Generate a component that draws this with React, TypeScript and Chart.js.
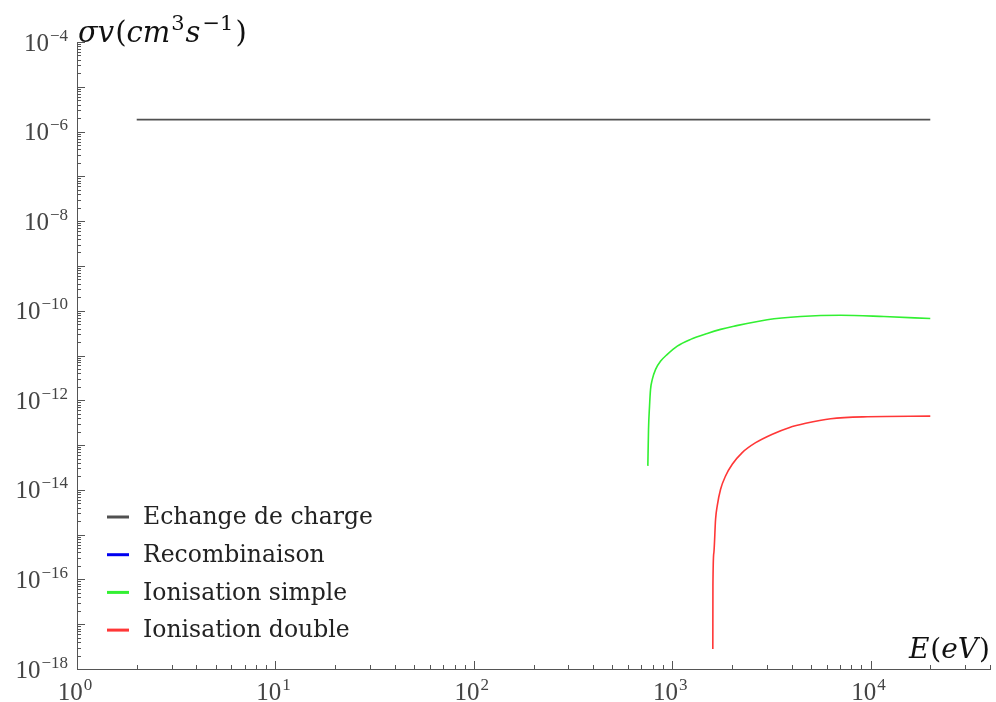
import React, { useEffect, useRef } from "react";
import { Chart, registerables } from "chart.js";

Chart.register(...registerables);

// ---- data ----
const seriesLabels = ["Echange de charge", "Recombinaison", "Ionisation simple", "Ionisation double"];
const seriesColors = ["rgb(80,80,80)", "rgb(0,0,240)", "rgb(50,240,50)", "rgb(255,55,55)"];

const chargeE = [2, 20000];
const chargeSigma = [1.85e-6, 1.85e-6];

const recombE: number[] = [];
const recombSigma: number[] = [];

const simpleE = [754, 760, 769, 778, 794, 825, 875, 945, 1061, 1239, 1503, 1754, 2046, 3013, 4436, 7060, 11670, 20000];
const simpleSigma = [3.43e-14, 2.25e-13, 7.45e-13, 1.75e-12, 2.93e-12, 4.9e-12, 7.5e-12, 1.06e-11, 1.62e-11, 2.29e-11, 3.11e-11, 3.83e-11, 4.5e-11, 6.3e-11, 7.4e-11, 7.9e-11, 7.4e-11, 6.7e-11];

const doubleE = [1603, 1605, 1623, 1655, 1687, 1754, 1858, 2009, 2255, 2635, 3199, 3880, 4710, 6295, 9640, 20000];
const doubleSigma = [2.8e-18, 7.2e-17, 4.0e-16, 2.2e-15, 4.4e-15, 1.03e-14, 2.04e-14, 3.72e-14, 6.8e-14, 1.13e-13, 1.75e-13, 2.45e-13, 3.06e-13, 3.86e-13, 4.28e-13, 4.43e-13];

const yMajorExponents = [-18, -16, -14, -12, -10, -8, -6, -4];
const yTickLabels = ["10^−18", "10^−16", "10^−14", "10^−12", "10^−10", "10^−8", "10^−6", "10^−4"];
const xMajorExponents = [0, 1, 2, 3, 4];
const xTickLabels = ["10^0", "10^1", "10^2", "10^3", "10^4"];

const X_MIN = 1;
const X_MAX = 4e4;
const Y_MIN = 1e-18;
const Y_MAX = 1e-4;

const AXIS_COLOR = "#555";
const LABEL_COLOR = "#444";
const SERIF = '"DejaVu Serif", "Liberation Serif", serif';
const TICK_SERIF = '"Liberation Serif", "DejaVu Serif", serif';

function logTicks(min: number, max: number) {
  const out: number[] = [];
  const e0 = Math.floor(Math.log10(min) + 1e-9);
  const e1 = Math.ceil(Math.log10(max) - 1e-9);
  for (let e = e0; e <= e1; e++) {
    for (let m = 1; m <= 9; m++) {
      const v = Number(`${m}e${e}`);
      if (v >= min * (1 - 1e-9) && v <= max * (1 + 1e-9)) out.push(v);
    }
  }
  return out;
}

function isDecade(v: number) {
  const l = Math.log10(v);
  return Math.abs(l - Math.round(l)) < 1e-6;
}

type Piece = { t: string; italic: boolean; small?: boolean; gap?: number };

function drawPieces(ctx: CanvasRenderingContext2D, pieces: Piece[], x: number, baseline: number, size: number, align: "left" | "right") {
  const fontOf = (p: Piece) => `${p.italic ? "italic " : ""}${p.small ? Math.round(size * 0.72) : size}px ${SERIF}`;
  let total = 0;
  for (const p of pieces) {
    ctx.font = fontOf(p);
    total += ctx.measureText(p.t).width + (p.gap || 0);
  }
  let cx = align === "left" ? x : x - total;
  ctx.textAlign = "left";
  ctx.textBaseline = "alphabetic";
  for (const p of pieces) {
    ctx.font = fontOf(p);
    cx += p.gap || 0;
    ctx.fillText(p.t, cx, p.small ? baseline - size * 0.42 : baseline);
    cx += ctx.measureText(p.t).width;
  }
}

function drawPowerLabel(ctx: CanvasRenderingContext2D, label: string, x: number, baseline: number, align: "right" | "center") {
  const [base, exp] = label.split("^");
  ctx.font = `25px ${TICK_SERIF}`;
  const wb = ctx.measureText(base).width;
  ctx.font = `17px ${TICK_SERIF}`;
  const we = ctx.measureText(exp).width + 1;
  const total = wb + we;
  const left = align === "right" ? x - total : x - total / 2;
  ctx.textAlign = "left";
  ctx.textBaseline = "alphabetic";
  ctx.font = `25px ${TICK_SERIF}`;
  ctx.fillText(base, left, baseline);
  ctx.font = `17px ${TICK_SERIF}`;
  ctx.fillText(exp, left + wb + 1, baseline - 10);
}

const decorPlugin = {
  id: "decor",
  afterDraw(chart: any) {
    const ctx: CanvasRenderingContext2D = chart.ctx;
    const area = chart.chartArea;
    const xs = chart.scales.x;
    const ys = chart.scales.y;
    ctx.save();
    // inward ticks
    ctx.strokeStyle = AXIS_COLOR;
    ctx.lineWidth = 1;
    ctx.beginPath();
    for (const t of ys.ticks) {
      const py = Math.round(ys.getPixelForValue(t.value)) + 0.5;
      const len = isDecade(t.value) ? 8 : 4;
      ctx.moveTo(area.left, py);
      ctx.lineTo(area.left + len, py);
    }
    for (const t of xs.ticks) {
      const px = Math.round(xs.getPixelForValue(t.value)) + 0.5;
      const len = isDecade(t.value) ? 8 : 4;
      ctx.moveTo(px, area.bottom);
      ctx.lineTo(px, area.bottom - len);
    }
    ctx.stroke();

    // tick labels
    ctx.fillStyle = LABEL_COLOR;
    yMajorExponents.forEach((e, i) => {
      const py = ys.getPixelForValue(Math.pow(10, e));
      drawPowerLabel(ctx, yTickLabels[i], area.left - 9, py + 8.5, "right");
    });
    xMajorExponents.forEach((e, i) => {
      const px = xs.getPixelForValue(Math.pow(10, e));
      drawPowerLabel(ctx, xTickLabels[i], px - 2, area.bottom + 31, "center");
    });

    // axis titles
    ctx.fillStyle = "#111";
    drawPieces(
      ctx,
      [
        { t: "σv", italic: true },
        { t: "(", italic: false, gap: 1 },
        { t: "cm", italic: true },
        { t: "3", italic: false, small: true, gap: 1 },
        { t: "s", italic: true, gap: 1 },
        { t: "−1", italic: false, small: true, gap: 2 },
        { t: ")", italic: false, gap: 2 },
      ],
      area.left + 1,
      area.top,
      29,
      "left"
    );
    drawPieces(
      ctx,
      [
        { t: "E", italic: true },
        { t: "(", italic: false, gap: 1 },
        { t: "eV", italic: true },
        { t: ")", italic: false, gap: 1 },
      ],
      area.right,
      area.bottom - 11,
      28,
      "right"
    );

    // legend
    const ds = chart.data.datasets;
    const startY = area.top + 475;
    const step = 37.7;
    ctx.font = `23.5px ${SERIF}`;
    ctx.textBaseline = "middle";
    ctx.textAlign = "left";
    ds.forEach((d: any, i: number) => {
      const y = startY + i * step;
      ctx.strokeStyle = d.borderColor;
      ctx.lineWidth = 3;
      ctx.beginPath();
      ctx.moveTo(area.left + 30, y);
      ctx.lineTo(area.left + 52, y);
      ctx.stroke();
      ctx.fillStyle = "#222";
      ctx.fillText(d.label, area.left + 66, y + 1);
    });
    ctx.restore();
  },
};

function toPoints(xs: number[], ys: number[]) {
  return xs.map((x, i) => ({ x, y: ys[i] }));
}

export default function App() {
  const ref = useRef<HTMLCanvasElement | null>(null);
  useEffect(() => {
    if (!ref.current) return;
    const pairs: [number[], number[]][] = [
      [chargeE, chargeSigma],
      [recombE, recombSigma],
      [simpleE, simpleSigma],
      [doubleE, doubleSigma],
    ];
    const chart = new Chart(ref.current, {
      type: "line",
      data: {
        datasets: pairs.map(([e, s], i) => ({
          label: seriesLabels[i],
          data: toPoints(e, s),
          borderColor: seriesColors[i],
          backgroundColor: seriesColors[i],
          borderWidth: 1.6,
          pointRadius: 0,
          cubicInterpolationMode: "monotone" as const,
          fill: false,
        })),
      },
      options: {
        responsive: false,
        animation: false,
        layout: { padding: { top: 42, right: 6, left: 0, bottom: 0 } },
        plugins: { legend: { display: false }, tooltip: { enabled: false } },
        scales: {
          x: {
            type: "logarithmic",
            min: X_MIN,
            max: X_MAX,
            afterBuildTicks: (scale: any) => {
              scale.ticks = logTicks(X_MIN, X_MAX).map((v) => ({ value: v }));
            },
            afterFit: (scale: any) => {
              scale.height = 33;
            },
            grid: { display: false, drawTicks: false },
            border: { display: true, color: AXIS_COLOR, width: 1 },
            ticks: { autoSkip: false, maxRotation: 0, callback: () => "" },
          },
          y: {
            type: "logarithmic",
            min: Y_MIN,
            max: Y_MAX,
            afterBuildTicks: (scale: any) => {
              scale.ticks = logTicks(Y_MIN, Y_MAX).map((v) => ({ value: v }));
            },
            afterFit: (scale: any) => {
              scale.width = 77;
            },
            grid: { display: false, drawTicks: false },
            border: { display: true, color: AXIS_COLOR, width: 1 },
            ticks: { autoSkip: false, callback: () => "" },
          },
        },
      },
      plugins: [decorPlugin],
    });
    return () => chart.destroy();
  }, []);
  return (
    <div style={{ position: "absolute", left: 0, top: 0, width: 996, height: 702, background: "#fff" }}>
      <canvas ref={ref} width={996} height={702} style={{ display: "block" }} />
    </div>
  );
}
